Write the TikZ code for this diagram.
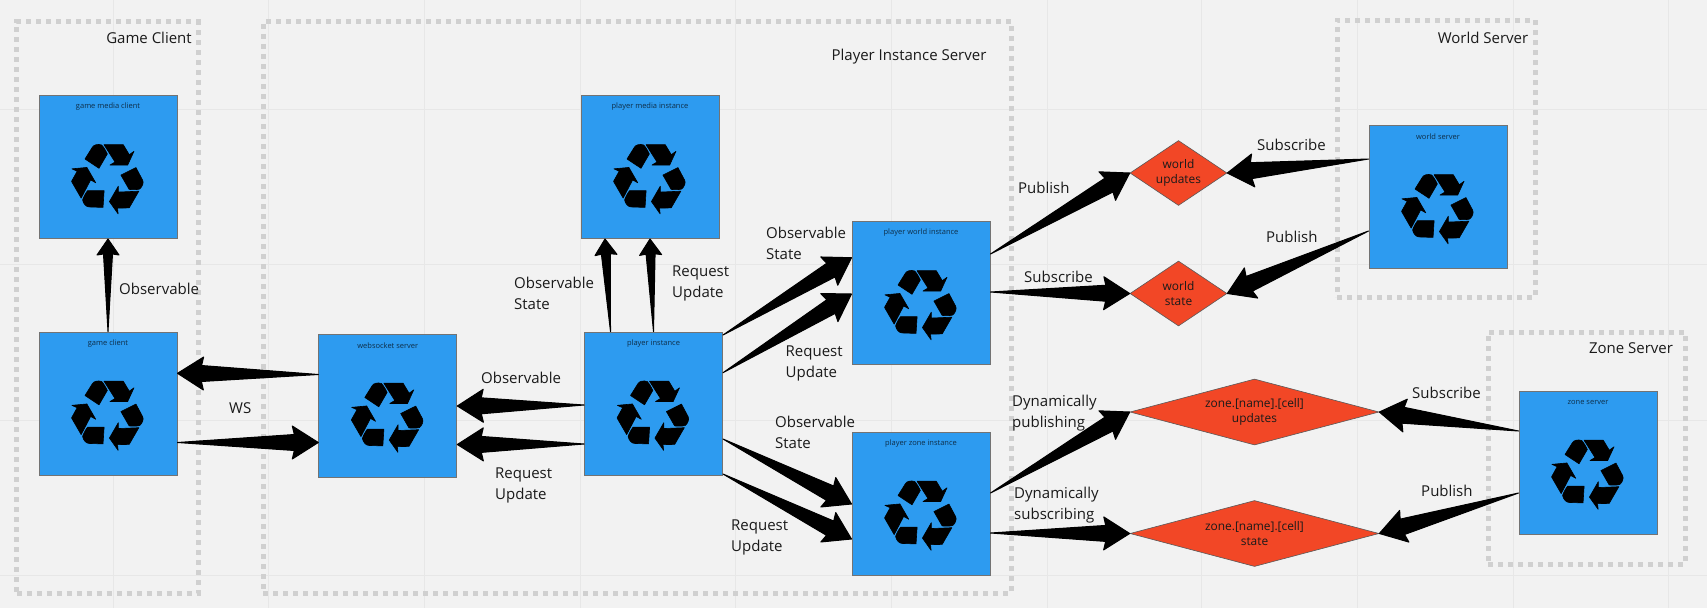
\documentclass[tikz,border=0pt]{standalone}
\usepackage{fontspec}
\setmainfont{Open Sans}
\usetikzlibrary{calc,shapes.geometric}
\definecolor{pagebg}{HTML}{F2F2F2}
\definecolor{gridline}{HTML}{E7E7E7}
\definecolor{groupline}{HTML}{D0D0D0}
\definecolor{boxblue}{HTML}{2D9BF0}
\definecolor{stateorange}{HTML}{F24726}
\definecolor{inktext}{HTML}{1A1A1A}
\tikzset{
  groupbox/.style={draw=groupline, line width=5pt, dash pattern=on 5pt off 5pt, inner sep=0pt},
  serverbox/.style={draw=black!55, line width=1pt, fill=boxblue, minimum width=138pt, minimum height=143pt, inner sep=0pt},
  boxtitle/.style={font=\fontsize{7.5}{9}\selectfont, text=black!70!boxblue, inner sep=0pt},
  pics/recycleicon/.style={code={
    \foreach \turn in {0,120,240} {
      \filldraw[black, line width=0.6pt, line join=round, rotate=\turn] (-23,-19) -- (-15.5,-31) .. controls (-14,-33.4) and (-10,-34.2) .. (-6.3,-33)
        .. controls (-4,-30.5) and (-2,-27) .. (-0.7,-24) -- (-9,-9.7) -- cycle;
      \filldraw[black, line width=0.6pt, line join=round, rotate=\turn] (-4,-33.3) -- (15.3,-33.3) -- (21.3,-23.3) -- (26,-26.7) -- (19.7,-13)
        -- (2,-13) -- (7,-16) -- cycle;
    }
  }},
  statenode/.style={shape=diamond, draw=black!65, line width=0.6pt, fill=stateorange, inner sep=0pt, align=center,
    text=inktext, font=\fontsize{11.9}{15.7}\selectfont},
  tag/.style={font=\fontsize{15}{21}\selectfont, text=inktext, align=left, inner sep=0pt},
  wedge/.style={draw=black, fill=black, line width=1pt, line join=round, to path={
    -- ($(\tikztotarget)!24pt!(\tikztostart)!8pt!90:(\tikztotarget)$)
    -- ($(\tikztotarget)!26pt!(\tikztostart)!16.5pt!90:(\tikztotarget)$)
    -- (\tikztotarget)
    -- ($(\tikztotarget)!26pt!(\tikztostart)!16.5pt!-90:(\tikztotarget)$)
    -- ($(\tikztotarget)!24pt!(\tikztostart)!8pt!-90:(\tikztotarget)$)
    -- cycle}},
  shortwedge/.style={draw=black, fill=black, line width=1pt, line join=round, to path={
    -- ($(\tikztotarget)!15pt!(\tikztostart)!4.5pt!90:(\tikztotarget)$)
    -- ($(\tikztotarget)!16pt!(\tikztostart)!11pt!90:(\tikztotarget)$)
    -- (\tikztotarget)
    -- ($(\tikztotarget)!16pt!(\tikztostart)!11pt!-90:(\tikztotarget)$)
    -- ($(\tikztotarget)!15pt!(\tikztostart)!4.5pt!-90:(\tikztotarget)$)
    -- cycle}}
}
\begin{document}
\begin{tikzpicture}[x=1pt,y=-1pt]
  \useasboundingbox (0,0) rectangle (1707,608);
  \fill[pagebg] (0,0) rectangle (1707,608);
  % grid
  \foreach \gx in {113,268.7,424.3,580,735.7,891.3,1047,1201.5,1357,1513,1668}
    \draw[gridline, line width=1pt] (\gx,0) -- (\gx,608);
  \foreach \gy in {109,264,420,575}
    \draw[gridline, line width=1pt] (0,\gy) -- (1707,\gy);

  % groups
  \node[groupbox, minimum width=181.5pt, minimum height=571.5pt] (clientgroup) at (107.25,307.25) {};
  \node[groupbox, minimum width=748pt, minimum height=571.5pt] (playergroup) at (637,307.25) {};
  \node[groupbox, minimum width=198pt, minimum height=277pt] (worldgroup) at (1436,158.5) {};
  \node[groupbox, minimum width=197pt, minimum height=232pt] (zonegroup) at (1586.5,448) {};
  \node[tag] (clienttag) at (149,38) {Game Client};
  \node[tag] (playertag) at (909,57) {Player Instance Server};
  \node[tag] (worldtag) at (1483,38) {World Server};
  \node[tag] (zonetag) at (1631,348) {Zone Server};

  % servers
  \foreach \name/\bx/\by/\title in {
      gamemedia/108/167/game media client,
      gameclient/108/403.5/game client,
      wsserver/387.8/405.5/websocket server,
      playerinst/653.5/403.5/player instance,
      playermedia/650/167/player media instance,
      playerworld/921/293/player world instance,
      playerzone/921/503.5/player zone instance,
      worldserver/1438/197/world server,
      zoneserver/1588/462.5/zone server} {
    \node[serverbox] (\name) at (\bx,\by) {};
    \node[boxtitle] (\name-title) at ([yshift=-12]\name.north) {\title};
    \pic (\name-icon) at ([yshift=-11]\name.center) {recycleicon};
  }

  % states
  \node[statenode, shape aspect=1.5, minimum width=97pt, minimum height=65pt] (worldupdates) at (1178.5,173) {world\\updates};
  \node[statenode, shape aspect=1.5, minimum width=97pt, minimum height=65pt] (worldstate) at (1178.5,293.5) {world\\state};
  \node[statenode, shape aspect=3.77, minimum width=249pt, minimum height=66pt] (zoneupdates) at (1254.5,412) {zone.[name].[cell]\\updates};
  \node[statenode, shape aspect=3.77, minimum width=249pt, minimum height=66pt] (zonestate) at (1254.5,533.5) {zone.[name].[cell]\\state};

  % connectors
  \draw[shortwedge] (gameclient.north) to (gamemedia.south);
  \draw[wedge] ([yshift=31]wsserver.west) to ([yshift=30.2]gameclient.east);
  \draw[wedge] ([yshift=-39]gameclient.east) to ([yshift=-37]wsserver.west);
  \draw[wedge] ([yshift=-1.5]playerinst.west) to ([yshift=-0.5]wsserver.east);
  \draw[wedge] ([yshift=-40.5]playerinst.west) to ([yshift=-39]wsserver.east);
  \draw[shortwedge] ([xshift=-43]playerinst.north) to ([xshift=-45]playermedia.south);
  \draw[shortwedge] (playerinst.north) to (playermedia.south);
  \draw[wedge] ([yshift=68.5]playerinst.east) to ([yshift=35.3]playerworld.west);
  \draw[wedge] ([yshift=30.8]playerinst.east) to ([yshift=-1]playerworld.west);
  \draw[wedge] ([yshift=-35.5]playerinst.east) to ([yshift=-0.5]playerzone.west);
  \draw[wedge] ([yshift=-70.5]playerinst.east) to ([yshift=-35.5]playerzone.west);
  \draw[wedge] ([yshift=39]playerworld.east) to (worldupdates.west);
  \draw[wedge] ([yshift=1]playerworld.east) to (worldstate.west);
  \draw[wedge] ([yshift=38]worldserver.west) to (worldupdates.east);
  \draw[wedge] ([yshift=-34]worldserver.west) to (worldstate.east);
  \draw[wedge] ([yshift=10.5]playerzone.east) to (zoneupdates.west);
  \draw[wedge] ([yshift=-29.5]playerzone.east) to (zonestate.west);
  \draw[wedge] ([yshift=31.5]zoneserver.west) to (zoneupdates.east);
  \draw[wedge] ([yshift=-30.5]zoneserver.west) to (zonestate.east);

  % connector labels
  \begin{scope}[every node/.style={tag, anchor=west}]
    \node (obsmedia) at (119,288.5) {Observable};
    \node (wslabel) at (229,408) {WS};
    \node (obswebsock) at (481,377.5) {Observable};
    \node (reqwebsock) at (495,485.5) {Request\\Update};
    \node (obsstatemedia) at (514,293) {Observable\\State};
    \node (reqmedia) at (672,283.5) {Request\\Update};
    \node (obsstateworld) at (766,243.5) {Observable\\State};
    \node (reqworld) at (785.5,363.5) {Request\\Update};
    \node (obsstatezone) at (775,432.5) {Observable\\State};
    \node (reqzone) at (731,537.5) {Request\\Update};
    \node (pubworld) at (1018,188) {Publish};
    \node (subworld) at (1024,277) {Subscribe};
    \node (subserver) at (1257,144.5) {Subscribe};
    \node (pubserver) at (1266,237) {Publish};
    \node (dynpub) at (1012,413) {Dynamically\\publishing};
    \node (dynsub) at (1014,505) {Dynamically\\subscribing};
    \node (subzone) at (1412,393) {Subscribe};
    \node (pubzone) at (1421,491) {Publish};
  \end{scope}
\end{tikzpicture}
\end{document}
